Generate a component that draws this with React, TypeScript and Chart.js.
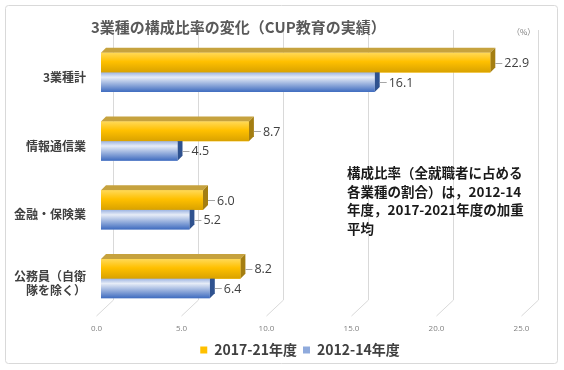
import { useEffect, useRef } from 'react';
import { Chart, registerables } from 'chart.js';

Chart.register(...registerables);

const categories: (string | string[])[] = ['3業種計', '情報通信業', '金融・保険業', ['公務員（自衛', '隊を除く）']];
const series2017 = [22.9, 8.7, 6.0, 8.2];
const series2012 = [16.1, 4.5, 5.2, 6.4];
const seriesNames = ['2017-21年度', '2012-14年度'];
const xMin = 0;
const xMax = 25;
const xStep = 5;
const titleText = '3業種の構成比率の変化（CUP教育の実績）';
const unitText = '（%）';
const noteLines = ['構成比率（全就職者に占める', '各業種の割合）は，2012-14', '年度，2017-2021年度の加重', '平均'];

const CJK = '"Noto Sans CJK JP", "Noto Sans", sans-serif';
const DEPTH = 5;

const styles = [
  { front: [[0, '#FFD957'], [0.45, '#FFC000'], [1, '#D9A200']], top: '#C6A23E', side: '#A47E12', legend: '#FFC000' },
  { front: [[0, '#9DB4E2'], [0.25, '#E6ECF7'], [1, '#3E6BBF']], top: '#8FA9D8', side: '#2F528F', legend: '#8FAADC' },
];

const decorPlugin = {
  id: 'decor',
  afterLayout(chart: any) {
    const lg = chart.legend;
    if (lg) {
      lg.left += 37;
      lg.right += 37;
    }
  },
  beforeDraw(chart: any) {
    const { ctx } = chart;
    ctx.save();
    ctx.fillStyle = '#ffffff';
    ctx.fillRect(0, 0, chart.width, chart.height);
    ctx.strokeStyle = '#D9D9D9';
    ctx.lineWidth = 1;
    ctx.beginPath();
    (ctx as any).roundRect ? ctx.roundRect(5.5, 5.5, 552, 358, 3) : ctx.rect(5.5, 5.5, 552, 358);
    ctx.stroke();
    ctx.restore();
  },
  beforeDatasetsDraw(chart: any) {
    const { ctx } = chart;
    const xs = chart.scales.x;
    ctx.save();
    ctx.strokeStyle = '#D9D9D9';
    ctx.lineWidth = 1;
    for (let v = xMin; v <= xMax; v += xStep) {
      const xb = Math.round(xs.getPixelForValue(v) + 12) + 0.5;
      ctx.beginPath();
      ctx.moveTo(xb, 30);
      ctx.lineTo(xb, 300);
      ctx.lineTo(xb - 17, 316);
      ctx.stroke();
    }
    ctx.restore();
  },
  afterDatasetsDraw(chart: any) {
    const { ctx } = chart;
    ctx.save();
    const order = [1, 0];
    const bars: any[] = [];
    order.forEach((di) => {
      const meta = chart.getDatasetMeta(di);
      const st = styles[di];
      meta.data.forEach((bar: any, i: number) => {
        const { x, y, base, height } = bar.getProps(['x', 'y', 'base', 'height'], true);
        const top = y - height / 2;
        const bottom = y + height / 2;
        ctx.fillStyle = st.top;
        ctx.beginPath();
        ctx.moveTo(base, top);
        ctx.lineTo(x, top);
        ctx.lineTo(x + DEPTH, top - DEPTH);
        ctx.lineTo(base + DEPTH, top - DEPTH);
        ctx.closePath();
        ctx.fill();
        ctx.fillStyle = st.side;
        ctx.beginPath();
        ctx.moveTo(x, top);
        ctx.lineTo(x + DEPTH, top - DEPTH);
        ctx.lineTo(x + DEPTH, bottom - DEPTH);
        ctx.lineTo(x, bottom);
        ctx.closePath();
        ctx.fill();
        const g = ctx.createLinearGradient(0, top, 0, bottom);
        st.front.forEach((s: any) => g.addColorStop(s[0], s[1]));
        ctx.fillStyle = g;
        ctx.fillRect(base, top, x - base, height);
        bars.push({ x, y, value: chart.data.datasets[di].data[i] });
      });
    });
    ctx.font = `12.5px "Open Sans", "Liberation Sans", sans-serif`;
    ctx.textBaseline = 'middle';
    ctx.textAlign = 'left';
    bars.forEach((b) => {
      ctx.strokeStyle = '#A6A6A6';
      ctx.lineWidth = 1;
      ctx.beginPath();
      ctx.moveTo(b.x + DEPTH, Math.round(b.y) + 0.5);
      ctx.lineTo(b.x + 12, Math.round(b.y) + 0.5);
      ctx.stroke();
      ctx.fillStyle = '#404040';
      ctx.fillText(Number(b.value).toFixed(1), b.x + 14, b.y + 1);
    });
    ctx.restore();
  },
  afterDraw(chart: any) {
    const { ctx } = chart;
    ctx.save();
    ctx.textBaseline = 'middle';
    ctx.textAlign = 'left';
    ctx.fillStyle = '#595959';
    ctx.font = `bold 15px ${CJK}`;
    ctx.fillText(titleText, 91, 27);
    ctx.fillStyle = '#7F7F7F';
    ctx.font = `8px ${CJK}`;
    ctx.fillText(unitText, 512, 32);
    ctx.fillStyle = '#1A1A1A';
    ctx.font = `bold 13.5px ${CJK}`;
    noteLines.forEach((line, i) => ctx.fillText(line, 347, 173 + i * 18.5));
    ctx.restore();
  },
};

export default function App() {
  const ref = useRef<HTMLCanvasElement>(null);
  useEffect(() => {
    document.body.style.margin = '0';
    const chart = new Chart(ref.current as HTMLCanvasElement, {
      type: 'bar',
      data: {
        labels: categories as any,
        datasets: [
          { label: seriesNames[0], data: series2017, backgroundColor: styles[0].legend, borderWidth: 0 },
          { label: seriesNames[1], data: series2012, backgroundColor: styles[1].legend, borderWidth: 0 },
        ],
      },
      options: {
        indexAxis: 'y',
        responsive: false,
        animation: false,
        devicePixelRatio: 1,
        layout: { padding: { left: 0, right: 38, top: 38, bottom: 3 } },
        datasets: { bar: { categoryPercentage: 0.57, barPercentage: 1 } },
        scales: {
          x: {
            min: xMin,
            max: xMax,
            ticks: {
              stepSize: xStep,
              callback: (v: any) => Number(v).toFixed(1),
              color: '#808080',
              font: { size: 8, family: '"Open Sans", sans-serif' },
              padding: 11,
              labelOffset: -4.5,
              maxRotation: 0,
            },
            grid: { display: false, drawTicks: false },
            border: { display: false },
            afterFit: (s: any) => { s.height = 24; },
          },
          y: {
            ticks: {
              color: '#404040',
              font: { size: 12, weight: 'bold', family: CJK, lineHeight: 1.2 },
              padding: 15,
              labelOffset: 5,
            },
            grid: { display: false, drawTicks: false },
            border: { display: false },
            afterFit: (s: any) => { s.width = 101; },
          },
        },
        plugins: {
          legend: {
            position: 'bottom',
            labels: {
              boxWidth: 7,
              boxHeight: 7,
              padding: 6,
              color: '#404040',
              font: { size: 14, weight: 'bold', family: CJK },
            },
          },
          tooltip: { enabled: false },
        },
      } as any,
      plugins: [decorPlugin],
    });
    return () => chart.destroy();
  }, []);
  return (
    <div style={{ position: 'absolute', left: 0, top: 0, width: 564, height: 370 }}>
      <canvas ref={ref} width={564} height={370} style={{ width: 564, height: 370, display: 'block' }} />
    </div>
  );
}
